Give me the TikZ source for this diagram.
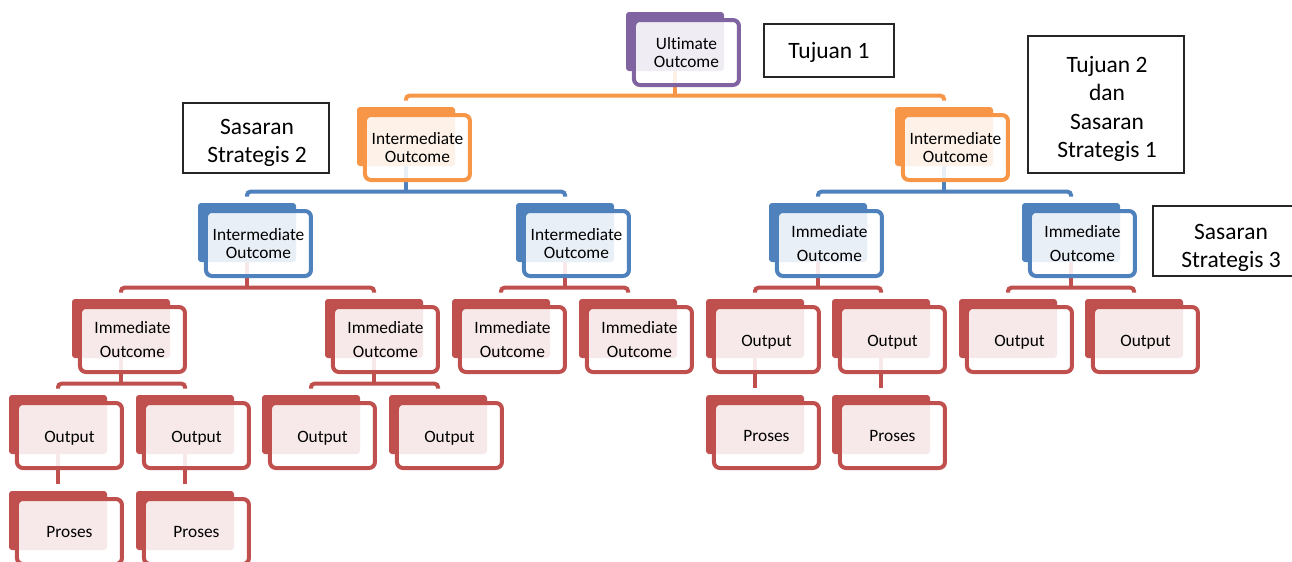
\documentclass[tikz,border=0pt]{standalone}
\usepackage{fontspec}
\setmainfont[Ligatures=CommonOff]{Carlito}
\usetikzlibrary{backgrounds,calc}
\definecolor{cpurple}{HTML}{8064A2}
\definecolor{corange}{HTML}{F79646}
\definecolor{cblue}{HTML}{4F81BD}
\definecolor{cred}{HTML}{C0504D}
\newcommand{\orgbox}[5]{%
  \node[backbox=#2] (#1) at (#3,#4) {};
  \node[frontbox=#2] (#1f) at ([xshift=8.6pt,yshift=-8.25pt]#1.center) {#5};
}
\newcommand{\tolink}[3]{%
  \coordinate (#2bar) at ($(#2.north)+(0,-11)$);
  \coordinate (#2end) at ($(#2.north)+(0,-6)$);
  \draw[conn=#3] (#1.south) -- (#1.south |- #2bar);
  \draw[conn=#3, rounded corners=2.5pt] (#1.south |- #2bar) -| (#2end);
}
\newcommand{\onelink}[3]{%
  \coordinate (#2end) at ($(#2.north)+(0,-7)$);
  \draw[conn=#3] (#1.south) -- (#2end);
}
\newcommand{\outp}{\raisebox{0pt}[10.3pt][0pt]{Output}}
\begin{document}
\begin{tikzpicture}[x=0.75pt,y=-0.75pt,
  backbox/.style={rectangle, rounded corners=2.25pt, minimum width=73.5pt, minimum height=44.25pt, inner sep=0pt, fill=#1},
  frontbox/.style={rectangle, rounded corners=4.5pt, minimum width=78.75pt, minimum height=48.75pt, inner sep=0pt, draw=#1, line width=3pt, fill=white, fill opacity=0.88, text opacity=1, draw opacity=1, align=center, font=\fontsize{13}{13.5}\selectfont},
  conn/.style={draw=#1, line width=3pt},
  tagbox/.style={draw=black!85, line width=1.5pt, rectangle, inner sep=0pt},
  tagtext/.style={inner sep=0pt, align=center, font=\fontsize{17.6}{21.4}\selectfont}]
\useasboundingbox (0,0) rectangle (1292,561);
\clip (0,0) rectangle (1292,561);

% level 0
\orgbox{u}{cpurple}{675}{41.5}{Ultimate\\Outcome}
% level 1
\orgbox{i1}{corange}{406}{136.5}{Intermediate\\Outcome}
\orgbox{i2}{corange}{944}{136.5}{Intermediate\\Outcome}
% level 2
\orgbox{b1}{cblue}{247}{232.5}{Intermediate\\Outcome}
\orgbox{b2}{cblue}{565}{232.5}{Intermediate\\Outcome}
\orgbox{b3}{cblue}{818}{232.5}{Immediate\\[4.5pt]Outcome}
\orgbox{b4}{cblue}{1071}{232.5}{Immediate\\[4.5pt]Outcome}
% level 3
\orgbox{r1}{cred}{121}{328.5}{Immediate\\[4.5pt]Outcome}
\orgbox{r2}{cred}{374}{328.5}{Immediate\\[4.5pt]Outcome}
\orgbox{r3}{cred}{501}{328.5}{Immediate\\[4.5pt]Outcome}
\orgbox{r4}{cred}{628}{328.5}{Immediate\\[4.5pt]Outcome}
\orgbox{r5}{cred}{755}{328.5}{\outp}
\orgbox{r6}{cred}{881}{328.5}{\outp}
\orgbox{r7}{cred}{1008}{328.5}{\outp}
\orgbox{r8}{cred}{1134}{328.5}{\outp}
% level 4
\orgbox{o1}{cred}{58}{424.5}{\outp}
\orgbox{o2}{cred}{185}{424.5}{\outp}
\orgbox{o3}{cred}{311}{424.5}{\outp}
\orgbox{o4}{cred}{438}{424.5}{\outp}
\orgbox{p5}{cred}{755}{424.5}{Proses}
\orgbox{p6}{cred}{881}{424.5}{Proses}
% level 5
\orgbox{p1}{cred}{58}{520.5}{Proses}
\orgbox{p2}{cred}{185}{520.5}{Proses}

\begin{pgfonlayer}{background}
\tolink{u}{i1}{corange}
\tolink{u}{i2}{corange}
\tolink{i1}{b1}{cblue}
\tolink{i1}{b2}{cblue}
\tolink{i2}{b3}{cblue}
\tolink{i2}{b4}{cblue}
\tolink{b1}{r1}{cred}
\tolink{b1}{r2}{cred}
\tolink{b2}{r3}{cred}
\tolink{b2}{r4}{cred}
\tolink{b3}{r5}{cred}
\tolink{b3}{r6}{cred}
\tolink{b4}{r7}{cred}
\tolink{b4}{r8}{cred}
\tolink{r1}{o1}{cred}
\tolink{r1}{o2}{cred}
\tolink{r2}{o3}{cred}
\tolink{r2}{o4}{cred}
\onelink{r5}{p5}{cred}
\onelink{r6}{p6}{cred}
\onelink{o1}{p1}{cred}
\onelink{o2}{p2}{cred}
\end{pgfonlayer}

% annotation boxes
\node[tagbox, minimum width=97.5pt, minimum height=39.75pt] (t1) at (829,50.5) {};
\node[tagtext] (t1t) at (829,52) {Tujuan 1};
\node[tagbox, minimum width=117pt, minimum height=102.75pt] (t2) at (1106,104.5) {};
\node[tagtext] (t2t) at (1107,109) {Tujuan 2\\dan\\Sasaran\\Strategis 1};
\node[tagbox, minimum width=109.5pt, minimum height=52.5pt] (s2) at (256,138) {};
\node[tagtext] (s2t) at (257,143) {Sasaran\\Strategis 2};
\node[tagbox, minimum width=117pt, minimum height=52.5pt] (s3) at (1231,241) {};
\node[tagtext] (s3t) at (1231,248) {Sasaran\\Strategis 3};
\end{tikzpicture}
\end{document}
